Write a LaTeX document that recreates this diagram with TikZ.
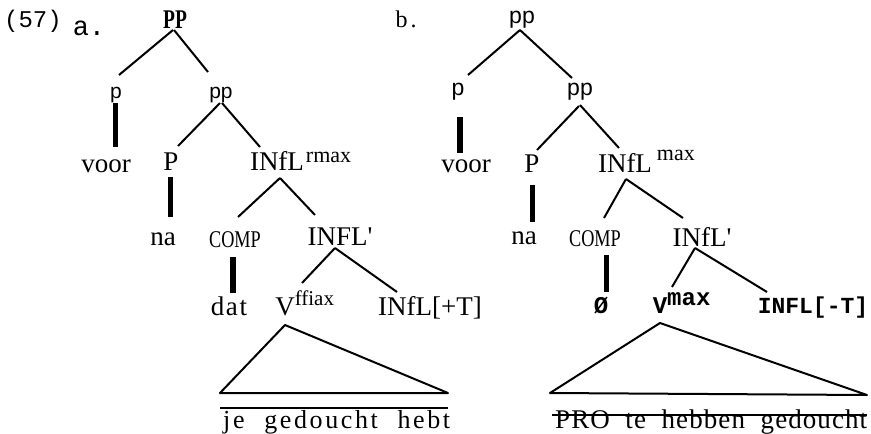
\documentclass[tikz,border=0pt]{standalone}
\usepackage{fontspec}
\usepackage{graphicx}
\usetikzlibrary{calc}
\newfontfamily\tms[Ligatures=TeXOff]{Liberation Serif}
\newfontfamily\mono{Liberation Mono}
\newfontfamily\sns{Liberation Sans}
\newcommand\fs[1]{\fontsize{#1}{#1}\selectfont}
\begin{document}
\begin{tikzpicture}[x=1pt,y=-1pt,
  lbl/.style={inner sep=0pt,anchor=base,font=\tms\fs{27}},
  edge/.style={line width=2pt},
  bar/.style={line width=5.5pt},
  tri/.style={line width=2pt,line join=round},
  rule/.style={line width=1.4pt}]
\useasboundingbox (0,0) rectangle (871,434);
% ---------- tree a ----------
\node[lbl,font=\mono\fs{24}] (n57) at (33,27) {(57)};
\node[lbl,font=\mono\fs{27}] (la) at (89,35) {a.};
\node[lbl,font=\tms\bfseries\fs{27}] (lPP) at (175,28) {\scalebox{0.72}[1]{PP}};
\node[lbl,font=\sns\fs{21}] (lp) at (116,98) {p};
\node[lbl,font=\sns\fs{21}] (lpp) at (221,98) {pp};
\node[lbl] (lvoor) at (106,172) {voor};
\node[lbl] (lP) at (171,170) {P};
\node[lbl] (lI) at (277,170) {INfL\rlap{\hspace{2pt}\raisebox{8pt}{\fs{22}rmax}}};
\node[lbl] (lna) at (163,245) {na};
\node[lbl] (lCOMP) at (235,247) {\scalebox{0.76}[1]{\fs{24}COMP}};
\node[lbl] (lIb) at (340,245) {INFL'};
\node[lbl] (ldat) at (229,315) {\addfontfeature{LetterSpace=6}dat};
\node[lbl] (lV) at (285,315) {V\rlap{\raisebox{10pt}{\fs{21}ffiax}}};
\node[lbl] (lIT) at (430,315) {INfL[+T]};
\node[lbl,anchor=base west] (ltext) at (223,428) {\fs{26}\addfontfeature{LetterSpace=10}\makebox[227pt][s]{je\hfill gedoucht\hfill hebt}};

\draw[edge] ($(lPP.base)+(-2,2)$) -- ($(lp.base)+(3,-23)$);
\draw[edge] ($(lPP.base)+(-1,2)$) -- ($(lpp.base)+(-13,-26)$);
\draw[bar] ($(lp.base)+(-0.5,5)$) -- ($(lvoor.base)+(9.5,-25)$);
\draw[edge] ($(lpp.base)+(-1,5)$) -- ($(lP.base)+(7,-24)$);
\draw[edge] ($(lpp.base)+(1,5)$) -- ($(lI.base)+(-17,-23)$);
\draw[bar] ($(lP.base)+(-0.5,7)$) -- ($(lna.base)+(7.5,-28)$);
\draw[edge] ($(lI.base)+(3,8)$) -- ($(lCOMP.base)+(3,-30)$);
\draw[edge] ($(lI.base)+(3,8)$) -- ($(lIb.base)+(-25,-30)$);
\draw[bar] ($(lCOMP.base)+(-2,10)$) -- ($(ldat.base)+(4,-22)$);
\draw[edge] ($(lIb.base)+(-5,3)$) -- ($(lV.base)+(17,-32)$);
\draw[edge] ($(lIb.base)+(-5,3)$) -- ($(lIT.base)+(-33,-23)$);
\coordinate (lTl) at (220,393);
\coordinate (lTr) at (448,393);
\draw[tri] ($(lV.base)+(0,10)$) -- (lTr) -- (lTl) -- cycle;
\coordinate (lOl) at (220,408);
\coordinate (lOr) at (448,408);
\draw[rule] (lOl) -- (lOr);

% ---------- tree b ----------
\node[lbl,font=\tms\fs{24}] (rb) at (406,27) {b\kern3pt.};
\node[lbl,font=\sns\fs{23}] (rpp) at (522,23) {pp};
\node[lbl,font=\sns\fs{23}] (rp) at (458,95) {p};
\node[lbl,font=\sns\fs{23}] (rpp2) at (580,95) {pp};
\node[lbl] (rvoor) at (466,172) {voor};
\node[lbl] (rP) at (532,172) {P};
\node[lbl] (rI) at (625,172) {INfL\rlap{\hspace{5pt}\raisebox{12pt}{\fs{22}max}}};
\node[lbl] (rna) at (524,244) {na};
\node[lbl] (rCOMP) at (595,246) {\scalebox{0.76}[1]{\fs{24}COMP}};
\node[lbl] (rIb) at (702,246) {INfL'};
\node[lbl,font=\mono\bfseries\fs{24}] (rO) at (601,313) {Ø};
\node[lbl,font=\mono\bfseries\fs{24}] (rV) at (660,313) {V\rlap{\raisebox{8pt}{max}}};
\node[lbl,font=\mono\bfseries\fs{23}] (rIT) at (813,313) {INFL[-T]};
\node[lbl,anchor=base west] (rtext) at (555,428) {\fs{27}\addfontfeature{LetterSpace=4}\makebox[312pt][s]{PRO\hfill te\hfill hebben\hfill gedoucht}};

\draw[edge] ($(rpp.base)+(-2,7)$) -- ($(rp.base)+(10,-20)$);
\draw[edge] ($(rpp.base)+(-2,7)$) -- ($(rpp2.base)+(-8,-17)$);
\draw[bar] ($(rp.base)+(2,22)$) -- ($(rvoor.base)+(-6,-19)$);
\draw[edge] ($(rpp2.base)+(-1,11)$) -- ($(rP.base)+(5,-22)$);
\draw[edge] ($(rpp2.base)+(0,10)$) -- ($(rI.base)+(-6,-24)$);
\draw[bar] ($(rP.base)+(0.5,13)$) -- ($(rna.base)+(8.5,-22)$);
\draw[edge] ($(rI.base)+(1,7)$) -- ($(rCOMP.base)+(9,-28)$);
\draw[edge] ($(rI.base)+(1,7)$) -- ($(rIb.base)+(-19,-28)$);
\draw[bar] ($(rCOMP.base)+(11.5,9)$) -- ($(rO.base)+(5.5,-21)$);
\draw[edge] ($(rIb.base)+(-7,2)$) -- ($(rV.base)+(12,-26)$);
\draw[edge] ($(rIb.base)+(-7,2)$) -- ($(rIT.base)+(-46,-21)$);
\coordinate (rTl) at (550,393);
\coordinate (rTr) at (867,395);
\draw[tri] ($(rV.base)+(0,10)$) -- (rTr) -- (rTl) -- cycle;
\coordinate (rSl) at (552,415);
\coordinate (rSr) at (867,415);
\draw[rule] (rSl) -- (rSr);
\end{tikzpicture}
\end{document}
